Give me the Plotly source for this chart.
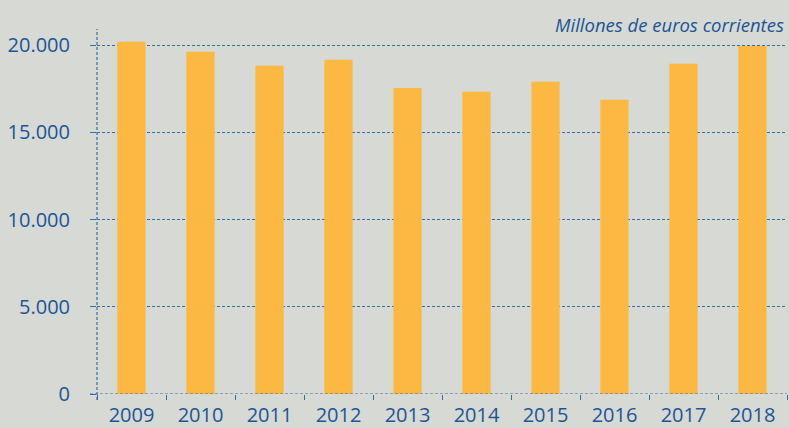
import plotly.graph_objects as go

years = ["2009", "2010", "2011", "2012", "2013", "2014", "2015", "2016", "2017", "2018"]
values = [20200, 19620, 18820, 19160, 17550, 17330, 17900, 16870, 18930, 19960]
y_tickvals = [0, 5000, 10000, 15000, 20000]
y_ticktext = ["0", "5.000", "10.000", "15.000", "20.000"]
unit_label = "Millones de euros corrientes"

BG = "#d6d9d4"
BAR = "#fbb944"
BLUE = "#1d5595"
GRID = "#3a6aa3"
FONT = "Open Sans"

W, H = 789, 428
ml, mr, mt, mb = 97, 2, 29, 34
ph = H - mt - mb

fig = go.Figure(go.Bar(x=years, y=values, marker=dict(color=BAR, line=dict(width=0)), width=0.41,
                       hoverinfo="skip"))

fig.update_layout(
    width=W, height=H,
    margin=dict(l=ml, r=mr, t=mt, b=mb, pad=0, autoexpand=False),
    paper_bgcolor=BG, plot_bgcolor=BG,
    showlegend=False,
    bargap=0.59,
    font=dict(family=FONT, color=BLUE, size=20),
)

fig.update_xaxes(
    type="category",
    tickson="boundaries",
    automargin=False,
    ticks="outside", ticklen=5, tickwidth=1, tickcolor=GRID,
    showgrid=False, showline=False, zeroline=False,
    tickfont=dict(family=FONT, size=20, color=BLUE),
    ticklabelstandoff=7,
)
fig.update_yaxes(
    range=[0, 20000 * ph / 348.8],
    automargin=False,
    tickvals=y_tickvals, ticktext=y_ticktext,
    ticks="outside", ticklen=6, tickwidth=1, tickcolor=GRID,
    showgrid=True, gridcolor=GRID, gridwidth=1.2, griddash="3px,2px",
    showline=False, zeroline=False,
    tickfont=dict(family=FONT, size=20, color=BLUE),
    ticklabelstandoff=16,
)

# dotted axis lines
fig.add_shape(type="line", xref="paper", yref="paper", x0=0, x1=0, y0=-6 / ph, y1=1,
              line=dict(color=GRID, width=1.2, dash="3px,2px"))
fig.add_shape(type="line", xref="paper", yref="y", x0=-7 / (W - ml - mr), x1=1, y0=0, y1=0,
              line=dict(color=GRID, width=1.2, dash="3px,2px"))

fig.add_annotation(text="<i>" + unit_label + "</i>", xref="paper", yref="paper",
                   x=1, y=1, xanchor="right", yanchor="middle", yshift=5, xshift=-1,
                   showarrow=False, font=dict(family=FONT, size=18.5, color=BLUE))

fig.write_html("out.html", config={"displayModeBar": False},
               post_script="document.body.style.margin='0';document.body.style.overflow='hidden';")
